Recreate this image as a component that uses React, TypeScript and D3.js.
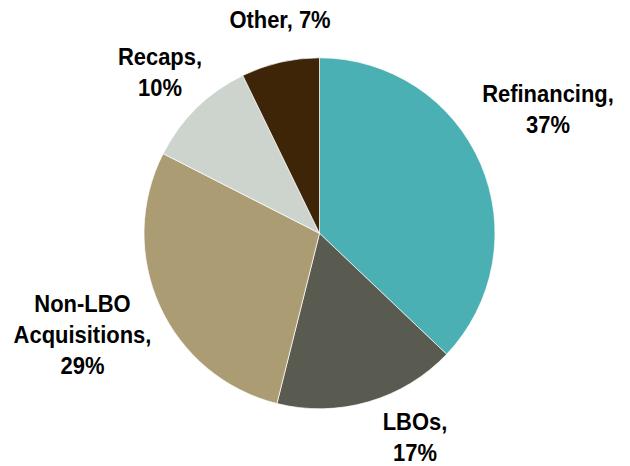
import React from "react";
import * as d3 from "d3";

const categories = ["Refinancing", "LBOs", "Non-LBO Acquisitions", "Recaps", "Other"];
const values = [37.1, 16.8, 28.6, 10.3, 7.2];
const labelLines = [
  ["Refinancing,", "37%"],
  ["LBOs,", "17%"],
  ["Non-LBO", "Acquisitions,", "29%"],
  ["Recaps,", "10%"],
  ["Other, 7%"],
];
const colors = ["#4AB0B4", "#5A5B50", "#AC9C74", "#CDD4CE", "#3E2508"];
// label anchor offsets (first baseline) relative to pie center
const labelOffsets: [number, number][] = [
  [228.5, -131],
  [95.5, 196.7],
  [-237, 78.4],
  [-159.5, -168.3],
  [-39.5, -205.6],
];

export default function App() {
  const W = 630, H = 466;
  const cx = 319.5, cy = 233.3, r = 175.5;
  const data = categories.map((c, i) => ({ c, v: values[i], i }));
  const pie = d3.pie<any>().sort(null).value((d) => d.v).startAngle(0).endAngle(2 * Math.PI);
  const arc = d3.arc<any>().innerRadius(0).outerRadius(r);
  const arcs = pie(data);
  const lh = 31;
  return (
    <svg width={W} height={H} style={{ position: "absolute", left: 0, top: 0, background: "#fff" }}>
      <g transform={`translate(${cx},${cy})`}>
        {arcs.map((a, i) => (
          <path key={i} d={arc(a) as string} fill={colors[i]} stroke="#fff" strokeWidth={0.7} />
        ))}
        {arcs.map((a, i) => (
          <g key={"t" + i} transform={`translate(${labelOffsets[i][0]},${labelOffsets[i][1]}) scale(0.955,1)`}>
            <text textAnchor="middle"
              fontFamily="Liberation Sans, Arial, sans-serif" fontWeight="bold" fontSize={23} fill="#000">
              {labelLines[i].map((l, j) => (
                <tspan key={j} x={0} y={j * lh}>{l}</tspan>
              ))}
            </text>
          </g>
        ))}
      </g>
    </svg>
  );
}
